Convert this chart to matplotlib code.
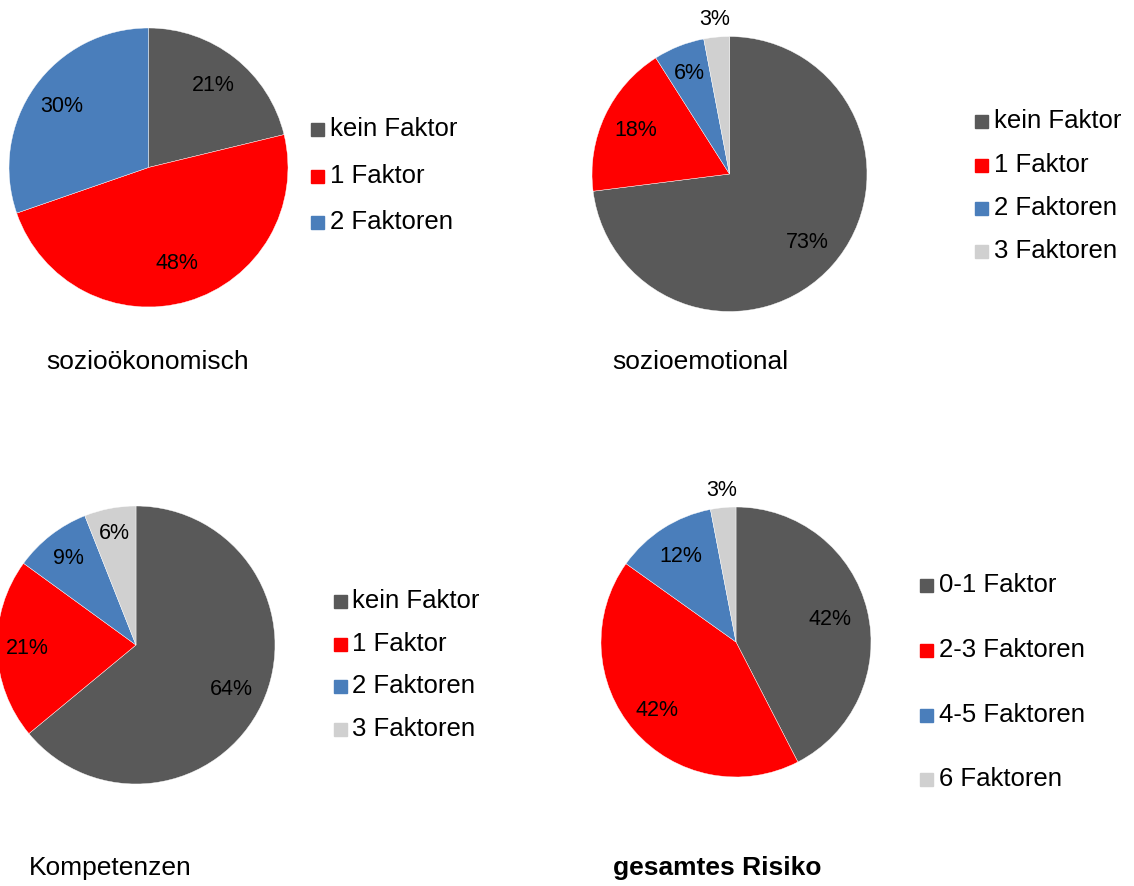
import numpy as np
import matplotlib.pyplot as plt
from matplotlib.patches import Rectangle

plt.rcParams['font.family'] = ['Liberation Sans', 'DejaVu Sans']

# Anteile je Risikobereich (in %)
soz_labels = ["kein Faktor", "1 Faktor", "2 Faktoren"]
soz_values = [21, 48, 30]

emo_labels = ["kein Faktor", "1 Faktor", "2 Faktoren", "3 Faktoren"]
emo_values = [73, 18, 6, 3]

komp_labels = ["kein Faktor", "1 Faktor", "2 Faktoren", "3 Faktoren"]
komp_values = [64, 21, 9, 6]

ges_labels = ["0-1 Faktor", "2-3 Faktoren", "4-5 Faktoren", "6 Faktoren"]
ges_values = [42, 42, 12, 3]

colors = ["#595959", "#FF0000", "#4A7EBB", "#D0D0D0"]

W, H = 1134, 886
fig = plt.figure(figsize=(W / 100, H / 100), dpi=100)


def px(x, y):
    return x / W, 1 - y / H


def draw_pie(values, cx, cy, r, label_dist):
    ax = fig.add_axes([(cx - r) / W, 1 - (cy + r) / H, 2 * r / W, 2 * r / H])
    wedges, _ = ax.pie(values, colors=colors[:len(values)], startangle=90,
                       counterclock=False, radius=1,
                       wedgeprops=dict(edgecolor="white", linewidth=0.3))
    for w, v, d in zip(wedges, values, label_dist):
        mid = np.deg2rad((w.theta1 + w.theta2) / 2)
        ax.text(d * np.cos(mid), d * np.sin(mid), f"{v}%", ha="center",
                va="center", fontsize=15.5, color="black")
    ax.set_xlim(-1, 1)
    ax.set_ylim(-1, 1)
    ax.set_aspect("equal")
    ax.axis("off")


def draw_legend(labels, x, baselines):
    for lab, c, yb in zip(labels, colors, baselines):
        fx, fy = px(x, yb)
        fig.add_artist(Rectangle((fx, fy), 13 / W, 13 / H, color=c,
                                 transform=fig.transFigure))
        fig.text(fx + 19 / W, fy, lab, fontsize=18.5, va="baseline", ha="left")


draw_pie(soz_values, 148.5, 167.5, 139.5, [0.75, 0.72, 0.76])
draw_pie(emo_values, 729.5, 174, 137.5, [0.75, 0.75, 0.79, 1.13])
draw_pie(komp_values, 136, 645, 139, [0.755, 0.785, 0.79, 0.82])
draw_pie(ges_values, 736, 642, 135, [0.72, 0.77, 0.755, 1.13])

draw_legend(soz_labels, 311, [136, 182.7, 229.3])
draw_legend(emo_labels, 975, [128.3, 171.5, 215, 258.3])
draw_legend(komp_labels, 333.5, [608.3, 650.7, 693.3, 736])
draw_legend(ges_labels, 920, [592.3, 657.3, 721.7, 786])

fig.text(*px(46, 369), "sozioökonomisch", fontsize=19, va="baseline")
fig.text(*px(612.5, 369), "sozioemotional", fontsize=19, va="baseline")
fig.text(*px(29, 875), "Kompetenzen", fontsize=19, va="baseline")
fig.text(*px(613, 875), "gesamtes Risiko", fontsize=19, va="baseline",
         fontweight="bold")

fig.savefig("out.png", dpi=100)
